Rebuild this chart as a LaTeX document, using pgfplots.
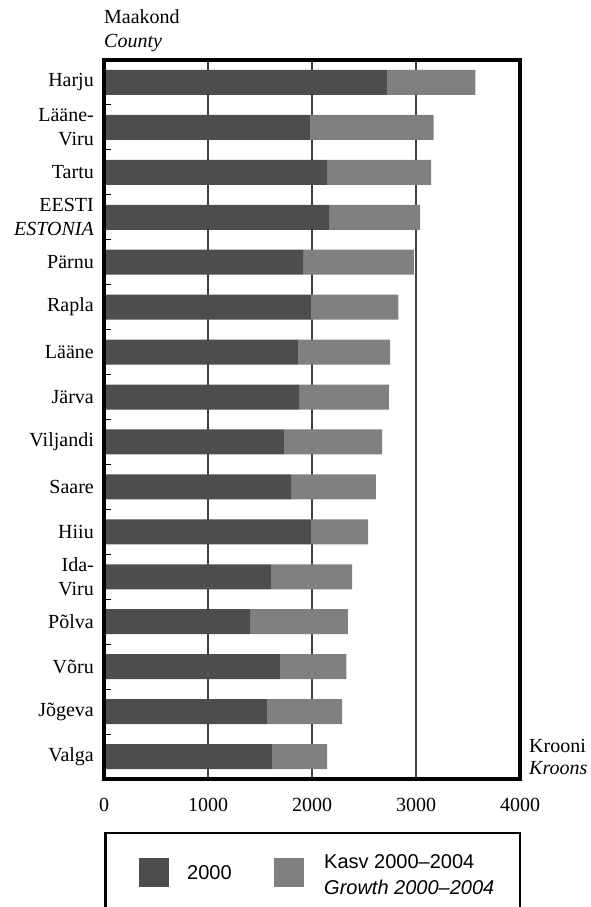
\documentclass[border=0pt]{standalone}
\usepackage{pgfplots}
\pgfplotsset{compat=1.18}
\usepackage{pgfplotstable}
\usepackage{fontspec}
\setmainfont{Liberation Serif}
\newfontfamily\legfont{Liberation Sans}
\definecolor{dark}{HTML}{4D4D4D}
\definecolor{light}{HTML}{808080}
% idx 15 = top row (Harju), 0 = bottom row (Valga)
\pgfplotstableread{
idx base growth
15 2720 850
14 1980 1190
13 2145 1000
12 2165 875
11 1915 1065
10 1990 840
9 1865 885
8 1875 865
7 1730 945
6 1800 815
5 1990 550
4 1605 780
3 1405 940
2 1690 640
1 1565 725
0 1615 530
}\data
\begin{document}
\fontsize{20}{24}\selectfont
\begin{tikzpicture}
\begin{axis}[
  width=416pt, height=719pt, scale only axis,
  xbar stacked, bar width=25pt,
  xmin=0, xmax=4000, ymin=-0.5, ymax=15.5,
  xtick={0,1000,2000,3000,4000},
  /pgf/number format/assume math mode=true,
  /pgf/number format/set thousands separator={},
  xmajorgrids, major x grid style={line width=1.1pt, color=black!75},
  ytick={0,...,15},
  yticklabels={Valga,Jõgeva,Võru,Põlva,{Ida-\\Viru},Hiiu,Saare,Viljandi,Järva,Lääne,Rapla,Pärnu,{EESTI\\\textit{ESTONIA}},Tartu,{Lääne-\\Viru},Harju},
  minor ytick={0.5,1.5,...,14.5},
  major tick length=0pt, minor tick length=7pt,
  tick align=inside, ytick pos=left, xtick pos=bottom,
  minor tick style={line width=1pt, black},
  axis line style={line width=3pt, black},
  yticklabel style={align=right, anchor=east, inner sep=0pt, xshift=-10pt, font=\fontsize{20}{24}\selectfont},
  xticklabel style={anchor=north, inner sep=0pt, yshift=-19pt, font=\fontsize{20}{24}\selectfont},
]
\addplot[fill=dark, draw=none] table[x=base, y=idx]{\data};
\addplot[fill=light, draw=none] table[x=growth, y=idx]{\data};
\end{axis}
% picture coordinates: axis box spans (0pt,0pt)--(416pt,719pt); page spans x -104..486, y -128..779
\draw[line width=3.2pt] (0pt,0pt) rectangle (416pt,719pt);
\node[anchor=west, align=left, inner sep=0pt] at (0pt,748pt) {Maakond\\\textit{County}};
\node[anchor=west, align=left, inner sep=0pt, font=\fontsize{20}{22}\selectfont] at (425pt,22pt) {Krooni\\\textit{Kroons}};
\draw[line width=2.2pt] (1.5pt,-136pt) -- (1.5pt,-54pt) -- (416pt,-54pt) -- (416pt,-136pt);
\fill[dark] (35pt,-79pt) rectangle (65pt,-108pt);
\fill[light] (170pt,-79pt) rectangle (200pt,-108pt);
\node[anchor=west, inner sep=0pt, font=\legfont\fontsize{20}{24}\selectfont] at (83pt,-93.5pt) {2000};
\node[anchor=west, align=left, inner sep=0pt, font=\legfont\fontsize{20}{26}\selectfont] at (220pt,-96pt) {Kasv 2000–2004\\\textit{Growth 2000–2004}};
\pgfresetboundingbox
\path[use as bounding box] (-104pt,779pt) rectangle (486pt,-128pt);
\end{tikzpicture}
\end{document}
